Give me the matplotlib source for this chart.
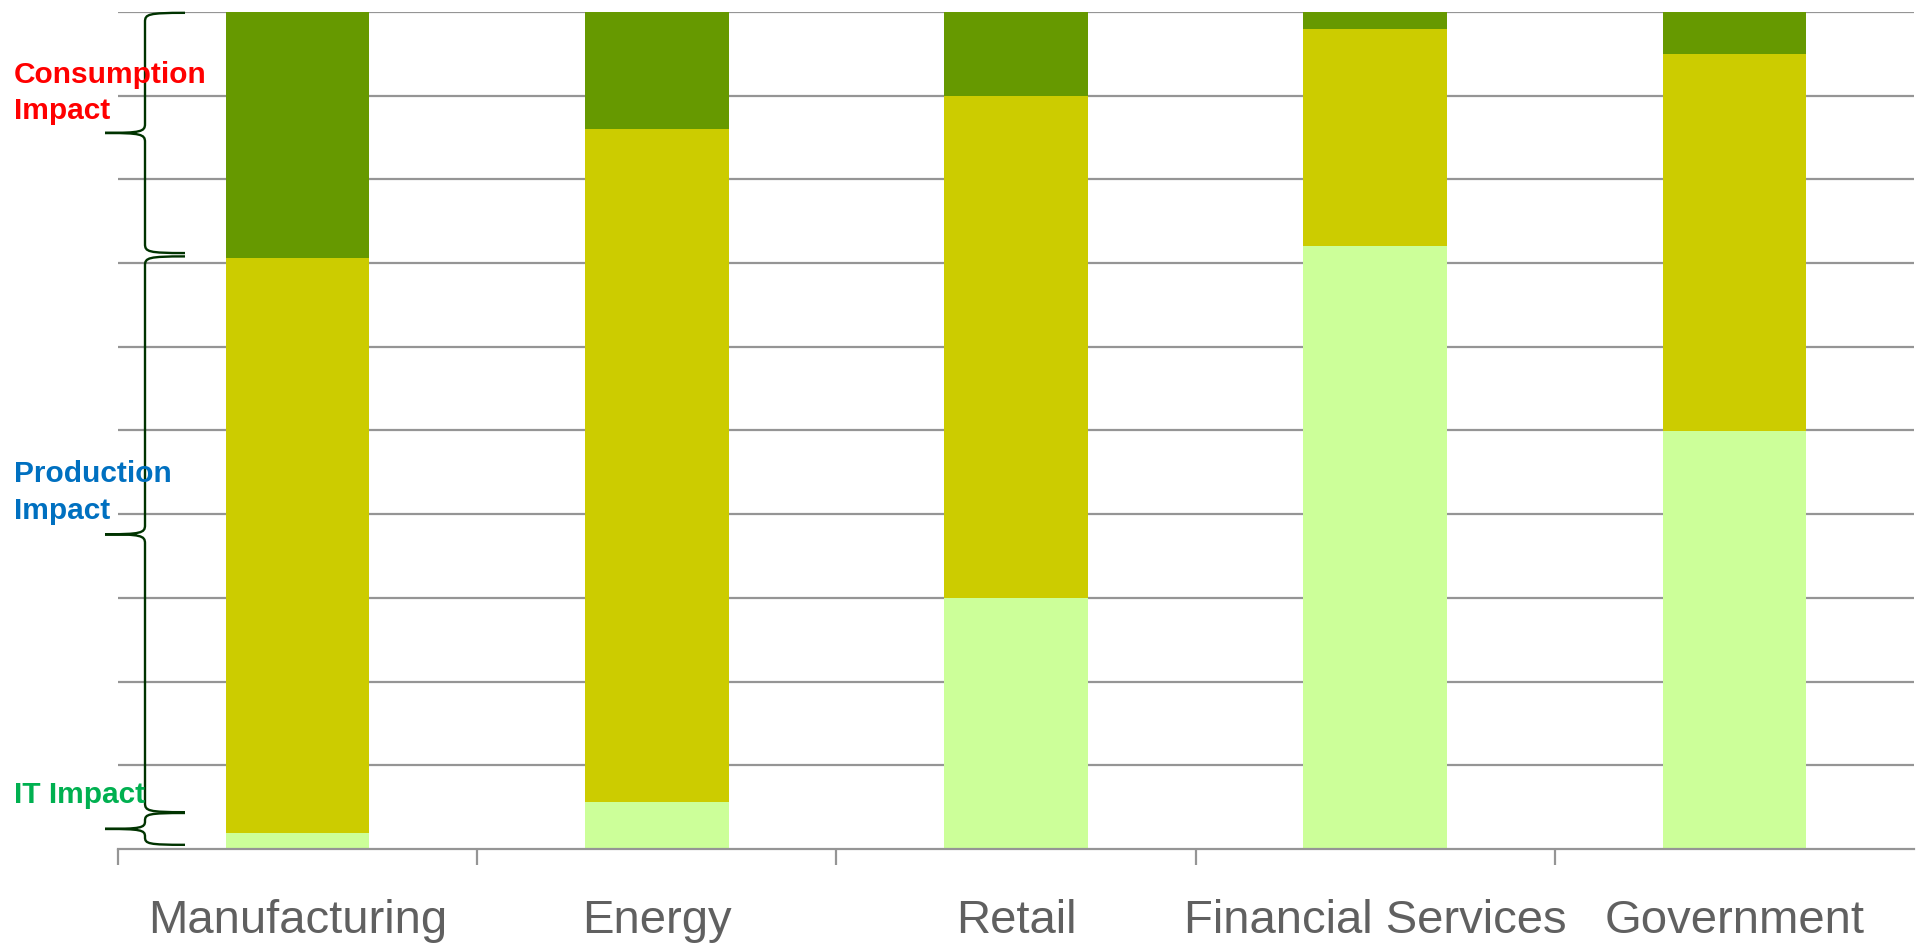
import matplotlib
matplotlib.use("Agg")
import matplotlib.pyplot as plt
from matplotlib.path import Path
from matplotlib.patches import PathPatch
import numpy as np

plt.rcParams['font.family'] = ['Liberation Sans', 'DejaVu Sans']

categories = ["Manufacturing", "Energy", "Retail", "Financial Services", "Government"]
it_impact = [1.9, 5.6, 30.0, 72.0, 50.0]
production_impact = [68.7, 80.4, 60.0, 26.0, 45.0]
consumption_impact = [29.4, 14.0, 10.0, 2.0, 5.0]

series_colors = ["#CCFF99", "#CCCC00", "#669900"]

# brace spans in data units: (top, bottom)
brace_spans = [(99.9, 71.2), (70.8, 4.4), (4.3, 0.5)]
brace_labels = [["Consumption", "Impact"], ["Production", "Impact"], ["IT Impact"]]
brace_label_colors = ["#FF0000", "#0070C0", "#00B050"]
# label baselines in figure pixel rows (from top)
label_baselines = [[83, 119], [482, 519], [803]]

W, H = 1923, 947
fig = plt.figure(figsize=(W / 100, H / 100), dpi=100)
ax = fig.add_axes([118 / W, 1 - 849 / H, 1796 / W, 837 / H])

x = np.arange(len(categories))
bw = 0.4
it = np.array(it_impact)
pr = np.array(production_impact)
co = np.array(consumption_impact)
ax.bar(x, it, bw, color=series_colors[0], zorder=3, linewidth=0)
ax.bar(x, pr, bw, bottom=it, color=series_colors[1], zorder=3, linewidth=0)
ax.bar(x, co, bw, bottom=it + pr, color=series_colors[2], zorder=3, linewidth=0)

ax.set_xlim(-0.5, 4.5)
ax.set_ylim(0, 100)
ax.set_yticks(np.arange(10, 101, 10))
ax.yaxis.grid(True, color="#959595", linewidth=1.6, zorder=0)
ax.tick_params(axis='y', left=False, labelleft=False)
for s in ['left', 'right', 'top']:
    ax.spines[s].set_visible(False)
ax.spines['bottom'].set_color("#959595")
ax.spines['bottom'].set_linewidth(1.6)
ax.spines['bottom'].set_zorder(4)

ax.set_xticks(x)
ax.set_xticklabels(categories, fontsize=34, color="#606060")
ax.tick_params(axis='x', which='major', length=0, pad=36)
ax.set_xticks(np.arange(-0.5, 4.0, 1.0), minor=True)
ax.tick_params(axis='x', which='minor', length=11.5, width=1.6, color="#959595")

# braces
trans = ax.get_yaxis_transform()
xs_tip = (105 - 118) / 1796
xs_spine = (145 - 118) / 1796
xs_end = (185 - 118) / 1796
px = 1 / 8.37  # data units per pixel


def brace(top, bot):
    mid = (top + bot) / 2
    r = min(9 * px, (top - bot) / 4.2)
    verts = [
        (xs_end, top),
        (xs_spine + (xs_end - xs_spine) * 0.08, top), (xs_spine, top - r * 0.15), (xs_spine, top - r),
        (xs_spine, mid + r),
        (xs_spine, mid + r * 0.15), (xs_spine - (xs_spine - xs_tip) * 0.1, mid), (xs_tip, mid),
        (xs_spine - (xs_spine - xs_tip) * 0.1, mid), (xs_spine, mid - r * 0.15), (xs_spine, mid - r),
        (xs_spine, bot + r),
        (xs_spine, bot + r * 0.15), (xs_spine + (xs_end - xs_spine) * 0.08, bot), (xs_end, bot),
    ]
    codes = [Path.MOVETO,
             Path.CURVE4, Path.CURVE4, Path.CURVE4,
             Path.LINETO,
             Path.CURVE4, Path.CURVE4, Path.CURVE4,
             Path.CURVE4, Path.CURVE4, Path.CURVE4,
             Path.LINETO,
             Path.CURVE4, Path.CURVE4, Path.CURVE4]
    p = PathPatch(Path(verts, codes), transform=trans, fill=False,
                  edgecolor="#003300", linewidth=1.7, clip_on=False, zorder=5)
    ax.add_patch(p)


for top, bot in brace_spans:
    brace(top, bot)

for lines, col, bases in zip(brace_labels, brace_label_colors, label_baselines):
    for txt, b in zip(lines, bases):
        fig.text(14 / W, 1 - b / H, txt, color=col, fontsize=21.5, fontweight='bold',
                 va='baseline', ha='left', zorder=6)

fig.savefig("out.png", dpi=100)
